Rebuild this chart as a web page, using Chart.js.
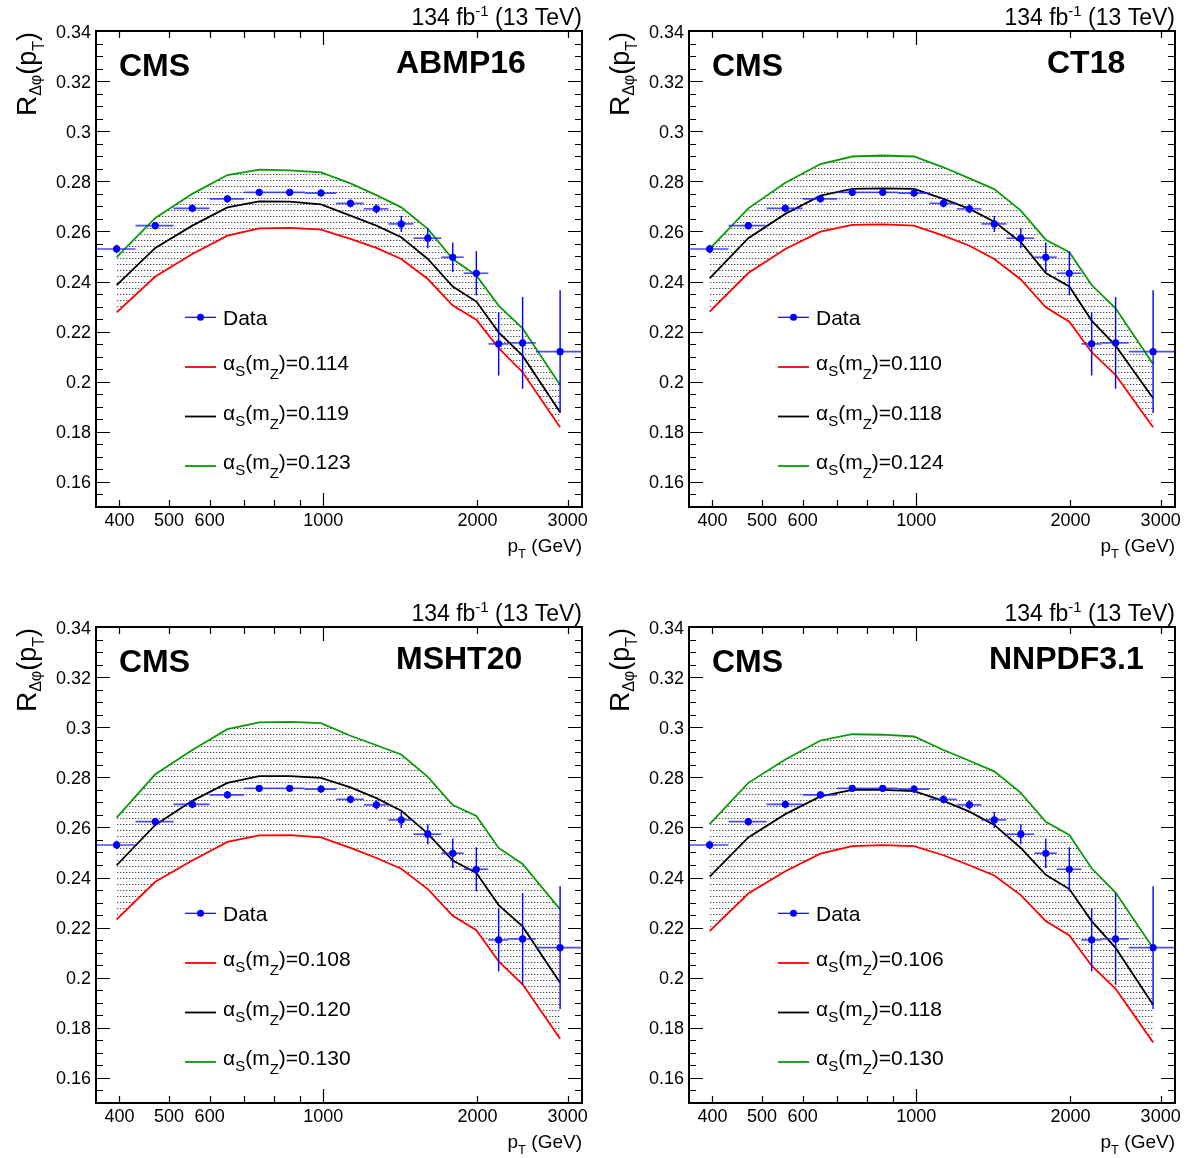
<!DOCTYPE html>
<html>
<head>
<meta charset="utf-8">
<script src="https://cdn.jsdelivr.net/npm/chart.js@4.4.1/dist/chart.umd.min.js"></script>
<style>
html, body { margin: 0; padding: 0; background: #fff; overflow: hidden; }
body { width: 1199px; height: 1158px; position: relative; }
.panel { position: absolute; width: 593px; height: 596px; }
.panel canvas { display: block; }
</style>
</head>
<body>
<div class="panel" style="left:0;top:0"><canvas id="c0" width="593" height="596"></canvas></div>
<div class="panel" style="left:593px;top:0"><canvas id="c1" width="593" height="596"></canvas></div>
<div class="panel" style="left:0;top:596px"><canvas id="c2" width="593" height="596"></canvas></div>
<div class="panel" style="left:593px;top:596px"><canvas id="c3" width="593" height="596"></canvas></div>
<script>
// ---- data ----
const ptEdges   = [360, 430, 510, 600, 700, 800, 920, 1060, 1200, 1340, 1500, 1700, 1880, 2100, 2300, 2600, 3200];
const ptCenters = [395, 470, 555, 650, 750, 860, 990, 1130, 1270, 1420, 1600, 1790, 1990, 2200, 2450, 2900];
const dataR     = [0.2530, 0.2623, 0.2692, 0.2730, 0.2756, 0.2756, 0.2753, 0.2712, 0.2690, 0.2630, 0.2573, 0.2497, 0.2433, 0.2151, 0.2155, 0.2120];
const dataErr   = [0.0017, 0.0015, 0.0015, 0.0015, 0.0013, 0.0013, 0.0015, 0.0016, 0.0018, 0.0032, 0.0040, 0.0059, 0.0088, 0.0126, 0.0183, 0.0245];

const abmpLow  = [0.2277, 0.2420, 0.2510, 0.2583, 0.2612, 0.2614, 0.2607, 0.2570, 0.2534, 0.2490, 0.2410, 0.2304, 0.2248, 0.2134, 0.2038, 0.1818];
const abmpMid  = [0.2386, 0.2534, 0.2623, 0.2696, 0.2720, 0.2719, 0.2708, 0.2663, 0.2623, 0.2577, 0.2490, 0.2380, 0.2320, 0.2197, 0.2104, 0.1878];
const abmpHigh = [0.2497, 0.2654, 0.2750, 0.2825, 0.2847, 0.2844, 0.2836, 0.2792, 0.2745, 0.2696, 0.2610, 0.2490, 0.2424, 0.2304, 0.2213, 0.1987];

const ct18Low  = [0.2280, 0.2434, 0.2530, 0.2599, 0.2626, 0.2628, 0.2623, 0.2583, 0.2543, 0.2490, 0.2408, 0.2297, 0.2240, 0.2118, 0.2027, 0.1818];
const ct18Mid  = [0.2413, 0.2573, 0.2670, 0.2743, 0.2770, 0.2772, 0.2770, 0.2730, 0.2690, 0.2639, 0.2557, 0.2434, 0.2380, 0.2244, 0.2144, 0.1934];
const ct18High = [0.2530, 0.2692, 0.2794, 0.2869, 0.2899, 0.2903, 0.2899, 0.2856, 0.2812, 0.2769, 0.2683, 0.2567, 0.2517, 0.2386, 0.2293, 0.2071];

const mshtLow  = [0.2233, 0.2383, 0.2468, 0.2542, 0.2568, 0.2569, 0.2560, 0.2518, 0.2478, 0.2435, 0.2354, 0.2247, 0.2190, 0.2065, 0.1974, 0.1756];
const mshtMid  = [0.2449, 0.2610, 0.2706, 0.2778, 0.2805, 0.2805, 0.2798, 0.2760, 0.2717, 0.2667, 0.2575, 0.2468, 0.2418, 0.2290, 0.2205, 0.1980];
const mshtHigh = [0.2639, 0.2812, 0.2909, 0.2992, 0.3019, 0.3021, 0.3016, 0.2966, 0.2928, 0.2891, 0.2802, 0.2689, 0.2646, 0.2518, 0.2454, 0.2273];

const nnpdfLow  = [0.2186, 0.2336, 0.2425, 0.2495, 0.2525, 0.2529, 0.2525, 0.2489, 0.2449, 0.2408, 0.2330, 0.2226, 0.2169, 0.2048, 0.1956, 0.1742];
const nnpdfMid  = [0.2404, 0.2560, 0.2653, 0.2724, 0.2750, 0.2750, 0.2745, 0.2706, 0.2663, 0.2610, 0.2518, 0.2411, 0.2354, 0.2226, 0.2119, 0.1892];
const nnpdfHigh = [0.2613, 0.2778, 0.2871, 0.2947, 0.2972, 0.2970, 0.2963, 0.2909, 0.2866, 0.2824, 0.2738, 0.2622, 0.2570, 0.2437, 0.2340, 0.2119];

const pdfNames    = ['ABMP16', 'CT18', 'MSHT20', 'NNPDF3.1'];
const alphaLabels = [['0.114', '0.119', '0.123'], ['0.110', '0.118', '0.124'], ['0.108', '0.120', '0.130'], ['0.106', '0.118', '0.130']];

const yTickValues  = [0.16, 0.18, 0.20, 0.22, 0.24, 0.26, 0.28, 0.30, 0.32, 0.34];
const xTickMajor   = [1000];
const xTickMinor   = [400, 500, 600, 700, 800, 900, 2000, 3000];
const xTickLabels  = [400, 500, 600, 1000, 2000, 3000];

// ---- style ----
const FONT = '"Liberation Sans", Arial, Helvetica, sans-serif';
const RED = '#ff0000', BLACK = '#000000', GREEN = '#0a9a0a', BLUE = '#0000ff';

// dotted grey texture for the alpha_s band
function makeDots() {
    const t = document.createElement('canvas');
    t.width = 3; t.height = 6;
    const g = t.getContext('2d');
    g.fillStyle = 'rgba(0,0,0,0.7)';
    g.fillRect(0, 0, 1, 1);
    g.fillStyle = 'rgba(0,0,0,0.25)';
    g.fillRect(1, 0, 1, 1);
    g.fillStyle = 'rgba(0,0,0,0.12)';
    g.fillRect(2, 3, 1, 1);
    return g.createPattern(t, 'repeat');
}
const dots = makeDots();

function font(p) {
    return (p.bold ? 'bold ' : '') + p.s + 'px ' + FONT;
}
function richWidth(c, parts) {
    let w = 0;
    parts.forEach(p => { c.font = font(p); w += c.measureText(p.t).width; });
    return w;
}
function drawRich(c, parts, x, y) {
    let cx = x;
    parts.forEach(p => {
        c.font = font(p);
        c.fillText(p.t, cx, y + (p.dy || 0));
        cx += c.measureText(p.t).width;
    });
}
function alphaText(v) {
    return [{t: 'α', s: 21}, {t: 'S', s: 15, dy: 6}, {t: '(m', s: 21}, {t: 'Z', s: 15, dy: 9}, {t: ')=' + v, s: 21}];
}

// error bars drawn just before the data markers
const errorBars = {
    id: 'errorBars',
    beforeDatasetDraw(chart, args) {
        if (args.index !== 0) return;
        const xs = chart.scales.x, ys = chart.scales.y, c = chart.ctx;
        c.save();
        ptCenters.forEach((pt, i) => {
            const px = xs.getPixelForValue(pt), py = ys.getPixelForValue(dataR[i]);
            c.strokeStyle = 'rgba(30,30,255,0.8)';
            c.lineWidth = 1.6;
            c.beginPath();
            c.moveTo(xs.getPixelForValue(ptEdges[i]), py);
            c.lineTo(xs.getPixelForValue(ptEdges[i + 1]), py);
            c.stroke();
            c.strokeStyle = BLUE;
            c.lineWidth = 1.4;
            c.beginPath();
            c.moveTo(px, ys.getPixelForValue(dataR[i] - dataErr[i]));
            c.lineTo(px, ys.getPixelForValue(dataR[i] + dataErr[i]));
            c.stroke();
        });
        c.restore();
    }
};

// ROOT-like frame, ticks on all sides, labels and texts
const rootDecor = {
    id: 'rootDecor',
    afterDraw(chart, args, opts) {
        const c = chart.ctx, a = chart.chartArea;
        const xs = chart.scales.x, ys = chart.scales.y;
        c.save();
        c.strokeStyle = BLACK;
        c.fillStyle = BLACK;

        // y ticks
        c.lineWidth = 1.2;
        c.beginPath();
        for (let k = 0; k <= 38; k++) {
            const v = 0.15 + k * 0.005;
            const py = Math.round(ys.getPixelForValue(v)) + 0.5;
            const major = yTickValues.some(t => Math.abs(t - v) < 1e-6);
            const len = major ? 14 : 7;
            c.moveTo(a.left, py); c.lineTo(a.left + len, py);
            c.moveTo(a.right, py); c.lineTo(a.right - len, py);
        }
        // x ticks
        xTickMinor.concat(xTickMajor).forEach(v => {
            const px = Math.round(xs.getPixelForValue(v)) + 0.5;
            const len = xTickMajor.includes(v) ? 14 : 7;
            c.moveTo(px, a.bottom); c.lineTo(px, a.bottom - len);
            c.moveTo(px, a.top); c.lineTo(px, a.top + len);
        });
        c.stroke();

        // frame
        c.lineWidth = 2;
        c.strokeRect(a.left, a.top, a.right - a.left, a.bottom - a.top);

        // tick labels
        c.font = '18px ' + FONT;
        c.textAlign = 'right';
        yTickValues.forEach(v => {
            c.fillText(String(+v.toFixed(2)), a.left - 5, ys.getPixelForValue(v) + 6.5);
        });
        c.textAlign = 'center';
        xTickLabels.forEach(v => {
            c.fillText(String(v), xs.getPixelForValue(v), a.bottom + 19);
        });
        c.textAlign = 'left';

        // axis titles
        const xt = [{t: 'p', s: 19}, {t: 'T', s: 13, dy: 6}, {t: ' (GeV)', s: 19}];
        drawRich(c, xt, a.right - richWidth(c, xt), a.bottom + 45);

        const yt = [{t: 'R', s: 28}, {t: 'Δφ', s: 16, dy: 5}, {t: '(p', s: 27}, {t: 'T', s: 16, dy: 8}, {t: ')', s: 27}];
        c.save();
        c.translate(36, a.top + 1);
        c.rotate(-Math.PI / 2);
        drawRich(c, yt, -richWidth(c, yt), 0);
        c.restore();

        // luminosity
        const lumi = [{t: '134 fb', s: 23}, {t: '-1', s: 15, dy: -9}, {t: ' (13 TeV)', s: 23}];
        drawRich(c, lumi, a.right - richWidth(c, lumi), 25);

        // CMS and PDF name
        c.font = 'bold 32px ' + FONT;
        c.fillText('CMS', 119, 76);
        c.fillText(opts.name, opts.nameX, 73);

        // legend
        const lx0 = 185, lx1 = 216, tx = 223;
        const rows = [317.3, 367, 416.5, 466];
        c.strokeStyle = BLUE;
        c.lineWidth = 1.2;
        c.beginPath(); c.moveTo(lx0, rows[0]); c.lineTo(lx1, rows[0]); c.stroke();
        c.fillStyle = BLUE;
        c.beginPath(); c.arc((lx0 + lx1) / 2, rows[0], 3.5, 0, Math.PI * 2); c.fill();
        c.fillStyle = BLACK;
        c.font = '21px ' + FONT;
        c.fillText('Data', tx, rows[0] + 7.5);
        const cols = [RED, BLACK, GREEN];
        opts.alphas.forEach((v, i) => {
            const y = rows[i + 1];
            c.strokeStyle = cols[i];
            c.lineWidth = 1.8;
            c.beginPath(); c.moveTo(lx0, y); c.lineTo(lx1, y); c.stroke();
            c.fillStyle = BLACK;
            drawRich(c, alphaText(v), tx, y + 3);
        });
        c.restore();
    }
};

function pts(arr) {
    return ptCenters.map((x, i) => ({x: x, y: arr[i]}));
}

function makePanel(id, name, nameX, alphas, low, mid, high) {
    new Chart(document.getElementById(id), {
        type: 'line',
        data: {
            datasets: [
                {label: 'Data', data: pts(dataR), showLine: false, pointRadius: 3.6, pointHoverRadius: 3.6,
                 pointBackgroundColor: BLUE, pointBorderColor: BLUE, pointBorderWidth: 0},
                {label: 'low', data: pts(low), borderColor: RED, borderWidth: 1.8, pointRadius: 0, fill: false},
                {label: 'central', data: pts(mid), borderColor: BLACK, borderWidth: 1.8, pointRadius: 0, fill: false},
                {label: 'high', data: pts(high), borderColor: GREEN, borderWidth: 1.8, pointRadius: 0,
                 fill: 1, backgroundColor: dots}
            ]
        },
        options: {
            responsive: false,
            animation: false,
            devicePixelRatio: 1,
            layout: {padding: {top: 31, right: 11, left: 0, bottom: 0}},
            elements: {line: {tension: 0}},
            plugins: {
                legend: {display: false},
                tooltip: {enabled: false},
                rootDecor: {name: name, nameX: nameX, alphas: alphas}
            },
            scales: {
                x: {type: 'logarithmic', min: 360, max: 3200,
                    ticks: {display: false}, grid: {display: false}, border: {display: false},
                    afterFit(s) { s.height = 89; }},
                y: {type: 'linear', min: 0.15, max: 0.34,
                    ticks: {display: false}, grid: {display: false}, border: {display: false},
                    afterFit(s) { s.width = 96; }}
            }
        },
        plugins: [errorBars, rootDecor]
    });
}

makePanel('c0', pdfNames[0], 396, alphaLabels[0], abmpLow, abmpMid, abmpHigh);
makePanel('c1', pdfNames[1], 454, alphaLabels[1], ct18Low, ct18Mid, ct18High);
makePanel('c2', pdfNames[2], 396, alphaLabels[2], mshtLow, mshtMid, mshtHigh);
makePanel('c3', pdfNames[3], 396, alphaLabels[3], nnpdfLow, nnpdfMid, nnpdfHigh);
</script>
</body>
</html>
